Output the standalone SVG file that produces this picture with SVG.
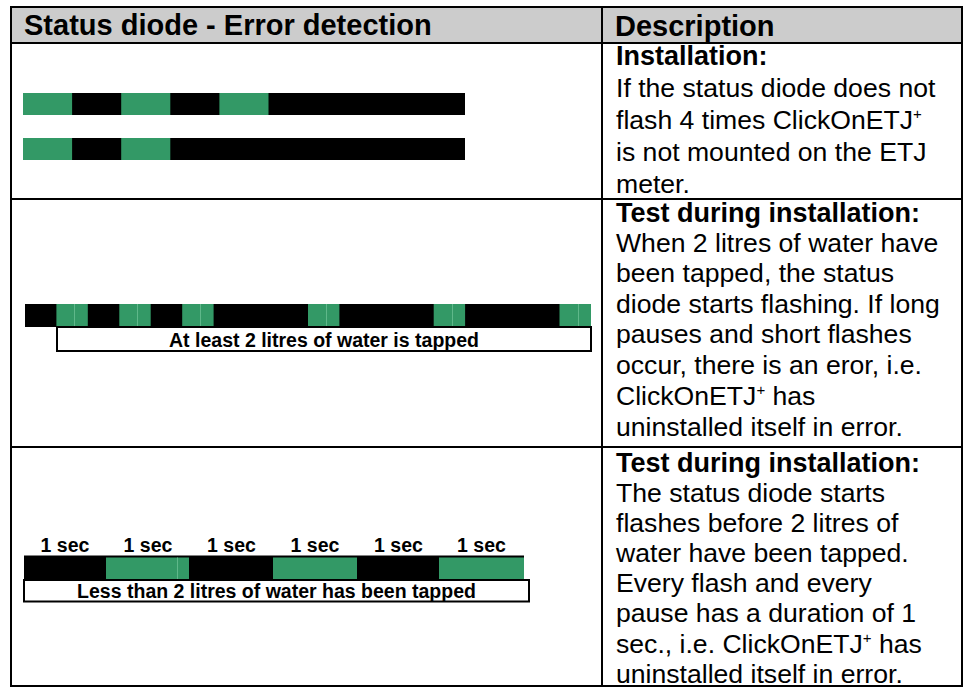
<svg xmlns="http://www.w3.org/2000/svg" width="966" height="688" viewBox="0 0 966 688">
<style>
.hd{font-family:"Liberation Sans",Arial,sans-serif;font-size:29px;font-weight:bold;fill:#000}
.sub{font-family:"Liberation Sans",Arial,sans-serif;font-size:27px;font-weight:bold;fill:#000}
.bd{font-family:"Liberation Sans",Arial,sans-serif;font-size:26.6px;fill:#000}
.sup{font-size:15px}
.lb{font-family:"Liberation Sans",Arial,sans-serif;font-size:19.5px;font-weight:bold;fill:#000}
.g{fill:#339966}
.k{fill:#000}
.ln{stroke:#000;stroke-width:2;fill:none}
.hl{stroke:#5fb88a;stroke-width:1}
</style>
<rect x="0" y="0" width="966" height="688" fill="#fff"/>
<g id="table">
<rect x="11" y="7" width="951" height="36" fill="#cccccc"/>
<rect class="ln" x="11" y="7" width="951" height="679"/>
<line class="ln" x1="11" y1="43" x2="962" y2="43"/>
<line class="ln" x1="11" y1="199" x2="962" y2="199"/>
<line class="ln" x1="11" y1="447" x2="962" y2="447"/>
<line class="ln" x1="602" y1="7" x2="602" y2="686"/>
<text class="hd" x="24" y="35">Status diode - Error detection</text>
<text class="hd" x="615" y="35.5">Description</text>
</g>
<g id="row1-signal">
<rect class="k" x="23" y="93" width="442" height="22"/>
<rect class="g" x="23" y="93" width="49.1" height="22"/>
<rect class="g" x="121.2" y="93" width="49.1" height="22"/>
<rect class="g" x="219.4" y="93" width="49.1" height="22"/>
<rect class="k" x="23" y="138" width="442" height="22"/>
<rect class="g" x="23" y="138" width="49.1" height="22"/>
<rect class="g" x="121.2" y="138" width="49.1" height="22"/>
</g>
<g id="row1-desc">
<text class="sub" x="616" y="65">Installation:</text>
<text class="bd" x="616" y="97">If the status diode does not</text>
<text class="bd" x="616" y="129">flash 4 times ClickOnETJ<tspan class="sup" dy="-10">+</tspan></text>
<text class="bd" x="616" y="161">is not mounted on the ETJ</text>
<text class="bd" x="616" y="193">meter.</text>
</g>
<g id="row2-signal">
<rect class="k" x="25" y="304" width="566" height="23"/>
<rect class="g" x="56.4" y="304" width="31.4" height="23"/>
<rect class="g" x="119.3" y="304" width="31.4" height="23"/>
<rect class="g" x="182.2" y="304" width="31.4" height="23"/>
<rect class="g" x="308" y="304" width="31.4" height="23"/>
<rect class="g" x="433.7" y="304" width="31.4" height="23"/>
<rect class="g" x="559.5" y="304" width="31.5" height="23"/>
<line class="hl" x1="74.5" y1="304" x2="74.5" y2="327"/>
<line class="hl" x1="137.5" y1="304" x2="137.5" y2="327"/>
<line class="hl" x1="200.5" y1="304" x2="200.5" y2="327"/>
<line class="hl" x1="326.5" y1="304" x2="326.5" y2="327"/>
<line class="hl" x1="452.5" y1="304" x2="452.5" y2="327"/>
<line class="hl" x1="578.5" y1="304" x2="578.5" y2="327"/>
<rect class="ln" x="57" y="327" width="534" height="24"/>
<text class="lb" x="324" y="346.5" text-anchor="middle">At least 2 litres of water is tapped</text>
</g>
<g id="row2-desc">
<text class="sub" x="616" y="222">Test during installation:</text>
<text class="bd" x="616" y="252">When 2 litres of water have</text>
<text class="bd" x="616" y="282">been tapped, the status</text>
<text class="bd" x="616" y="312.5">diode starts flashing. If long</text>
<text class="bd" x="616" y="343">pauses and short flashes</text>
<text class="bd" x="616" y="374">occur, there is an eror, i.e.</text>
<text class="bd" x="616" y="405">ClickOnETJ<tspan class="sup" dy="-10">+</tspan><tspan dy="10"> has</tspan></text>
<text class="bd" x="616" y="436">uninstalled itself in error.</text>
</g>
<g id="row3-signal">
<text class="lb" x="65" y="552" text-anchor="middle">1 sec</text>
<text class="lb" x="148" y="552" text-anchor="middle">1 sec</text>
<text class="lb" x="231.5" y="552" text-anchor="middle">1 sec</text>
<text class="lb" x="315" y="552" text-anchor="middle">1 sec</text>
<text class="lb" x="398.5" y="552" text-anchor="middle">1 sec</text>
<text class="lb" x="481.5" y="552" text-anchor="middle">1 sec</text>
<rect class="k" x="24" y="555.5" width="500" height="24.5"/>
<rect class="g" x="106" y="557.5" width="83" height="22.5"/>
<rect class="g" x="273" y="557.5" width="84" height="22.5"/>
<rect class="g" x="439" y="557.5" width="85" height="22.5"/>
<line class="hl" x1="177.5" y1="557.5" x2="177.5" y2="580"/>
<rect class="ln" x="24" y="580" width="505" height="21.5"/>
<text class="lb" x="276.5" y="598" text-anchor="middle">Less than 2 litres of water has been tapped</text>
</g>
<g id="row3-desc">
<text class="sub" x="616" y="472">Test during installation:</text>
<text class="bd" x="616" y="502">The status diode starts</text>
<text class="bd" x="616" y="532">flashes before 2 litres of</text>
<text class="bd" x="616" y="562">water have been tapped.</text>
<text class="bd" x="616" y="592">Every flash and every</text>
<text class="bd" x="616" y="622">pause has a duration of 1</text>
<text class="bd" x="616" y="653">sec., i.e. ClickOnETJ<tspan class="sup" dy="-10">+</tspan><tspan dy="10"> has</tspan></text>
<text class="bd" x="616" y="683">uninstalled itself in error.</text>
</g>
</svg>
